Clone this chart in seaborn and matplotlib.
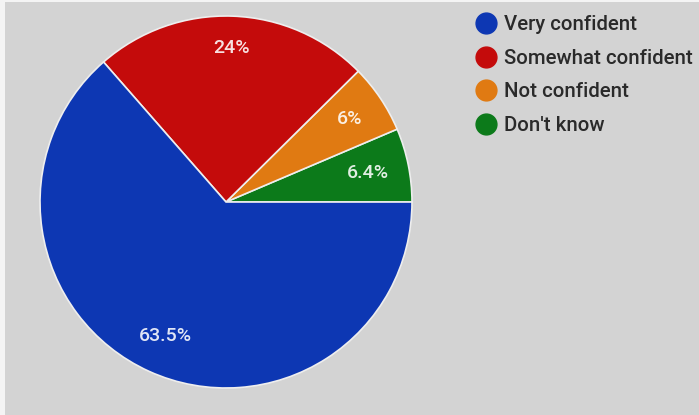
import matplotlib
matplotlib.use("Agg")
import matplotlib.pyplot as plt
import seaborn as sns
import numpy as np
from matplotlib.lines import Line2D
from matplotlib.patches import Rectangle

sns.set_theme(style="white")
plt.rcParams["font.family"] = ["Roboto", "DejaVu Sans"]

categories = ["Very confident", "Somewhat confident", "Not confident", "Don't know"]
shares = [63.5, 24, 6, 6.4]
colors = ["#0d37b3", "#c40b0b", "#e07a12", "#0c7a1a"]
pct_labels = ["63.5%", "24%", "6%", "6.4%"]

BG = "#d3d3d3"

fig = plt.figure(figsize=(6.99, 4.15), dpi=100, facecolor=BG)
# thin light strips along the left and top edges
fig.patches.append(Rectangle((0, 0), 5 / 699, 1, transform=fig.transFigure,
                             facecolor="#f4f4f4", edgecolor="none", zorder=0))
fig.patches.append(Rectangle((0, 1 - 2 / 415), 1, 2 / 415, transform=fig.transFigure,
                             facecolor="#f4f4f4", edgecolor="none", zorder=0))

ax = fig.add_axes([40 / 699, 27 / 415, 372 / 699, 372 / 415])
ax.set_facecolor(BG)

# slices run counter-clockwise from 3 o'clock, starting with "Don't know"
order = [3, 2, 1, 0]
wedges, _ = ax.pie([shares[i] for i in order],
                   colors=[colors[i] for i in order],
                   startangle=0, counterclock=True, radius=1,
                   wedgeprops=dict(edgecolor="#eeeeee", linewidth=1.2))

label_r = {0: 0.79, 1: 0.83, 2: 0.80, 3: 0.78}
for w, i in zip(wedges, order):
    mid = np.deg2rad((w.theta1 + w.theta2) / 2)
    r = label_r[i]
    ax.text(r * np.cos(mid), r * np.sin(mid), pct_labels[i], ha="center", va="center",
            fontsize=14, fontweight="medium", color="white", alpha=0.88)

ax.set_xlim(-1, 1)
ax.set_ylim(-1, 1)
ax.set_aspect("equal")
ax.axis("off")

handles = [Line2D([], [], marker="o", linestyle="none", markersize=15,
                  markerfacecolor=c, markeredgecolor=c) for c in colors]
leg = fig.legend(handles, categories, loc="upper left",
                 bbox_to_anchor=(474 / 699, 1 - 15 / 415), frameon=False,
                 prop=dict(size=14.7, weight="medium"),
                 handletextpad=0.25, labelspacing=0.72,
                 handlelength=1.2, borderaxespad=0, borderpad=0)
for t in leg.get_texts():
    t.set_color("#2a2a2a")

fig.savefig("out.png", dpi=100, facecolor=BG)
